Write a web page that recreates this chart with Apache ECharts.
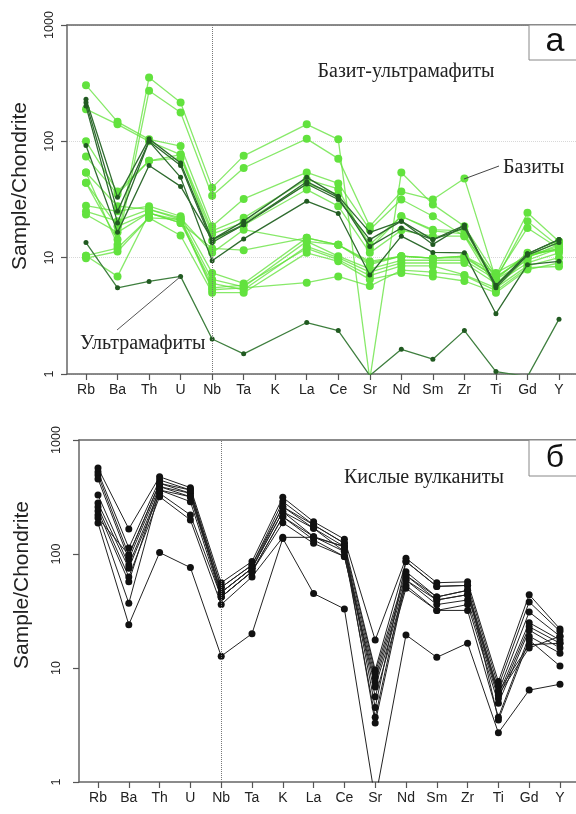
<!DOCTYPE html>
<html><head><meta charset="utf-8">
<script src="https://cdn.jsdelivr.net/npm/echarts@6/dist/echarts.min.js"></script>
<style>html,body{margin:0;padding:0;background:#fff}#c{width:576px;height:814px}</style>
</head><body><div id="c"></div>
<script>
// Element order (x categories)
const elements = ['Rb','Ba','Th','U','Nb','Ta','K','La','Ce','Sr','Nd','Sm','Zr','Ti','Gd','Y'];
const yTicks = [1, 10, 100, 1000];

// Panel а — basites (bright green), K not analysed (null)
const basite1  = [44, 14.3, 354, 216, 40, 75, null, 140, 104, 0.9, 54, 28.7, 18.6, 7.0, 24.3, 13.8];
const basite2  = [54, 12.9, 272, 177, 34, 59, null, 105, 71, 18.6, 37, 31.6, 48, 6.5, 20.6, 12.5];
const basite3  = [304, 147, 104, 91, 18.6, 32, null, 54, 43.5, 17.4, 31.6, 22.7, 15.3, 6.8, 18, 12];
const basite4  = [189, 140, 100, 77, 17, 22, null, 47, 39, 12, 22.7, 17.4, 17, 6.5, 11, 11.5];
const basite5  = [100, 37, 68, 72, 16, 20, null, 43, 35, 13, 22.7, 17, 16, 6, 10.3, 12.5];
const basite6  = [74, 35, 68, 77, 14, 19, null, 38.5, 27.7, 11, 17.2, 15.3, 15.3, 5.5, 10, 13];
const basite7  = [44, 18.6, 24.3, 19.9, 12, 11.6, null, 14.8, 12.9, 9, 10.3, 9.9, 10.3, 6.8, 10.3, 12];
const basite8  = [28, 25, 27.7, 22.7, 7.4, 6, null, 14.8, 12.9, 8.7, 10.3, 9.9, 10.3, 7.4, 10.3, 13.8];
const basite9  = [25, 20.6, 26, 21.3, 6.5, 5.6, null, 13.8, 10.3, 8, 9.5, 9.5, 9.5, 6.5, 9.5, 12];
const basite10 = [23.5, 16.5, 24.3, 19.9, 6, 5.3, null, 12.5, 10, 7.5, 9, 9, 9, 6, 9, 11];
const basite11 = [10.4, 12.1, 22, 21.3, 5.5, 5.8, null, 12, 9.6, 7, 8.5, 8.5, 7.1, 5.5, 8.5, 10];
const basite12 = [9.9, 11.3, 22, 15.5, 5.0, 5.0, null, 11, 9.3, 6.5, 7.4, 6.9, 6.3, 5.0, 7.9, 9];
const basite13 = [10.4, 6.9, 24, 21, 5.3, 5.5, null, 6.1, 6.9, 5.7, 7.8, 7.5, 7, 5.2, 8.2, 8.4];
const basite14 = [54, 27.7, 26, 22, 11, 17.4, null, 13.8, 12.9, 9.3, 10.3, 9.9, 10, 6.8, 10.3, 12];
// Panel а — dark green (ultramafites and related)
const ultramafite1 = [13.5, 5.5, 6.25, 6.9, 2.0, 1.49, null, 2.77, 2.36, 0.97, 1.63, 1.34, 2.36, 1.05, 0.95, 2.96];
const dark2 = [230, 33, 105, 65, 14.3, 20.6, null, 49, 33.8, 16.5, 20.6, 14.3, 19, 5.7, 10.8, 14.3];
const dark3 = [216, 25, 100, 62, 13.5, 19.2, null, 43, 31.6, 14.3, 20.6, 13, 19, 5.5, 10.5, 13.5];
const dark4 = [201, 19.9, 100, 49, 9.4, 14.5, null, 30.6, 24, 7.1, 15.3, 11.1, 11, 3.3, 8.7, 9.3];
const dark5 = [92, 16.5, 62, 41, 14.3, 19.2, null, 45, 33, 12.5, 18, 14.3, 18, 5.8, 10.8, 14.3];

// Panel б — felsic volcanics
const felsic1  = [568, 166, 476, 382, 56, 86, 314, 192, 135, 17.6, 92, 56, 57, 7.6, 44, 22];
const felsic2  = [524, 113, 446, 364, 51, 80, 288, 180, 124, 9.6, 86, 52, 53, 6.9, 38, 21];
const felsic3  = [493, 98, 417, 341, 46, 75, 260, 168, 116, 9.0, 70, 42, 48, 6.2, 31, 19];
const felsic4  = [455, 90, 390, 318, 46, 75, 235, 142, 105, 8.2, 65, 39.5, 44, 5.8, 25, 17.6];
const felsic5  = [329, 80, 364, 288, 42, 70, 212, 133, 95, 7.5, 59, 36, 39.5, 5.4, 23, 16.5];
const felsic6  = [280, 75, 341, 220, 42, 70, 188, 124, 95, 6.8, 53, 32, 36, 4.9, 21.5, 15];
const felsic7  = [258, 63, 318, 199, 36, 63, 140, 140, 116, 5.6, 50, 32, 32, 3.7, 19, 13.5];
const felsic8  = [238, 57, 390, 341, 51, 80, 260, 180, 124, 4.5, 86, 52, 53, 3.5, 17.6, 10.4];
const felsic9  = [220, 37, 364, 318, 46, 75, 235, 168, 105, 3.7, 65, 42, 48, 6.2, 16, 16.5];
const felsic10 = [207, 98, 417, 364, 42, 70, 212, 142, 116, 3.3, 59, 39.5, 44, 5.8, 15, 19];
const felsic11 = [187, 24, 103, 76, 12.7, 20, 137, 45, 33, 0.7, 19.5, 12.4, 16.5, 2.7, 6.4, 7.2];

const basites = [basite1,basite2,basite3,basite4,basite5,basite6,basite7,basite8,basite9,basite10,basite11,basite12,basite13,basite14];
const darks = [dark2,dark3,dark4,dark5,ultramafite1];
const felsics = [felsic1,felsic2,felsic3,felsic4,felsic5,felsic6,felsic7,felsic8,felsic9,felsic10,felsic11];

const SANS = 'Liberation Sans';
const SERIF = 'Liberation Serif';
const idx = elements.map((_, i) => i);
const nbIndex = elements.indexOf('Nb');

function toPts(arr){ return arr.map((v,i)=> v==null ? null : [i, v]).filter(p=>p); }

function xAxes(grid, min, max){
  return [
    { type:'value', gridIndex:grid, min:min, max:max, position:'bottom',
      axisLine:{show:true, onZero:false, lineStyle:{color:'#666', width:1.5}},
      axisTick:{show:true, customValues: idx, length:6, lineStyle:{color:'#555', width:1.2}},
      axisLabel:{show:true, customValues: idx, formatter: v => elements[Math.round(v)] || '',
        color:'#222', fontFamily:SANS, fontSize:14, margin:9},
      splitLine:{show:false} },
    { type:'value', gridIndex:grid, min:min, max:max, position:'top',
      axisLine:{show:true, onZero:false, lineStyle:{color:'#666', width:1.5}},
      axisTick:{show:false}, axisLabel:{show:false}, splitLine:{show:false} }
  ];
}
function yAxis(grid, grid_lines, margin){
  return { type:'log', logBase:10, gridIndex:grid, min:1, max:1000, position:'left',
    axisLine:{show:true, onZero:false, lineStyle:{color:'#666', width:1.5}},
    axisTick:{show:true, customValues: yTicks, length:6, lineStyle:{color:'#555', width:1.2}},
    minorTick:{show:false},
    axisLabel:{show:true, customValues: yTicks, rotate:90, color:'#222', fontFamily:SANS, fontSize:12.5, margin:margin,
      formatter: v => String(Math.round(v))},
    splitLine:{show:grid_lines, lineStyle:{color:'#d8d8d8', type:'dotted', width:1}} };
}

const series = [];
const nbLine = (grid) => ({ silent:true, symbol:'none', animation:false,
  label:{show:false}, lineStyle:{color:'#777', type:'dotted', width:1},
  data:[{xAxis: nbIndex}] });

basites.forEach((arr,k)=>{
  series.push({ type:'line', xAxisIndex:0, yAxisIndex:0, data:toPts(arr), symbol:'circle', symbolSize:8,
    lineStyle:{color:'rgba(95,225,55,0.75)', width:1.3}, itemStyle:{color:'#62e23e'}, clip:true,
    silent:true, animation:false, z:2, markLine: k===0 ? nbLine(0) : undefined });
});
darks.forEach((arr,k)=>{
  series.push({ type:'line', xAxisIndex:0, yAxisIndex:0, data:toPts(arr), symbol:'circle', symbolSize:5,
    lineStyle:{color: k===4 ? '#3f7f3f' : '#2f6b2f', width:1.3}, itemStyle:{color:'#215a21'}, clip:true,
    silent:true, animation:false, z:3 });
});
felsics.forEach((arr,k)=>{
  series.push({ type:'line', xAxisIndex:2, yAxisIndex:1, data:toPts(arr), symbol:'circle', symbolSize:7,
    lineStyle:{color:'#222', width:1}, itemStyle:{color:'#111'}, clip:true,
    silent:true, animation:false, z:3, markLine: k===0 ? nbLine(1) : undefined });
});

const chart = echarts.init(document.getElementById('c'), null, {renderer:'canvas'});
chart.setOption({
  backgroundColor:'#fff',
  animation:false,
  grid:[
    {left:67, top:25, width:509, height:349},
    {left:79, top:440, width:497, height:342}
  ],
  xAxis: [...xAxes(0, -0.6025, 15.539), ...xAxes(1, -0.617, 15.52)],
  yAxis: [yAxis(0, true, 11), yAxis(1, false, 16)],
  series: series,
  graphic: [
    // y axis titles
    {type:'text', x:20, y:186, rotation:Math.PI/2, z:10,
      style:{text:'Sample/Chondrite', fontFamily:SANS, fontSize:21, fill:'#222', textAlign:'center', textVerticalAlign:'middle'}},
    {type:'text', x:22, y:585, rotation:Math.PI/2, z:10,
      style:{text:'Sample/Chondrite', fontFamily:SANS, fontSize:21, fill:'#222', textAlign:'center', textVerticalAlign:'middle'}},
    // panel labels
    {type:'rect', shape:{x:529, y:25, width:52, height:35}, z:10, style:{fill:'#fff', stroke:'#888', lineWidth:1}},
    {type:'text', x:555, y:42, z:11, style:{text:'а', fontFamily:SANS, fontSize:34, fill:'#111', textAlign:'center', textVerticalAlign:'middle'}},
    {type:'rect', shape:{x:529, y:440, width:52, height:36}, z:10, style:{fill:'#fff', stroke:'#888', lineWidth:1}},
    {type:'text', x:555, y:458, z:11, style:{text:'б', fontFamily:SANS, fontSize:32, fill:'#111', textAlign:'center', textVerticalAlign:'middle'}},
    // titles
    {type:'text', x:406, y:72, z:10, style:{text:'Базит-ультрамафиты', fontFamily:SERIF, fontSize:20, fill:'#222', textAlign:'center', textVerticalAlign:'middle'}},
    {type:'text', x:424, y:478, z:10, style:{text:'Кислые вулканиты', fontFamily:SERIF, fontSize:20, fill:'#222', textAlign:'center', textVerticalAlign:'middle'}},
    // annotations
    {type:'line', shape:{x1:464, y1:179, x2:499, y2:166}, z:10, style:{stroke:'#444', lineWidth:1}},
    {type:'text', x:503, y:168, z:10, style:{text:'Базиты', fontFamily:SERIF, fontSize:20, fill:'#222', textAlign:'left', textVerticalAlign:'middle'}},
    {type:'line', shape:{x1:117, y1:330, x2:180, y2:277}, z:10, style:{stroke:'#555', lineWidth:1}},
    {type:'text', x:80, y:344, z:10, style:{text:'Ультрамафиты', fontFamily:SERIF, fontSize:20, fill:'#222', textAlign:'left', textVerticalAlign:'middle'}}
  ]
});
</script>
</body></html>
